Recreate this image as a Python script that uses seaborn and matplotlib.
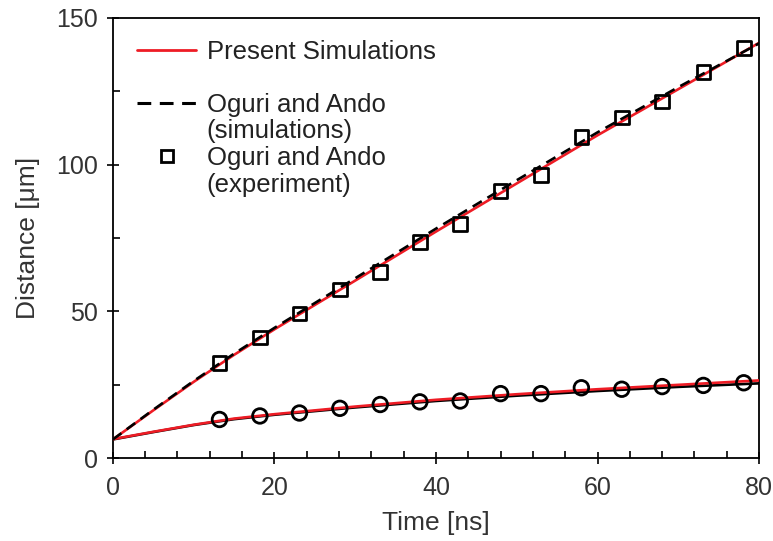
import matplotlib
matplotlib.use("Agg")
import matplotlib.pyplot as plt
import seaborn as sns
import pandas as pd
from matplotlib.ticker import MultipleLocator
from matplotlib.lines import Line2D

# --- data ---
t_exp = [13.2, 18.2, 23.1, 28.1, 33.1, 38.0, 43.0, 48.0, 53.0, 58.0, 63.0, 68.0, 73.1, 78.1]
upper_exp = [32.5, 41.1, 49.3, 57.5, 63.4, 73.7, 79.7, 91.1, 96.5, 109.5, 116.0, 121.5, 131.5, 139.7]
lower_exp = [13.2, 14.4, 15.4, 17.0, 18.3, 19.2, 19.5, 22.0, 22.0, 24.0, 23.5, 24.4, 24.8, 25.7]

t_sim = [0, 5, 10, 15, 20, 30, 40, 50, 60, 70, 80]
upper_present = [6.4, 16.3, 26.0, 35.2, 43.9, 60.5, 77.2, 93.6, 110.0, 125.7, 141.5]
upper_oguri = [6.4, 16.5, 26.3, 35.6, 44.4, 61.3, 78.2, 94.7, 111.0, 126.4, 141.3]
lower_present = [6.5, 9.0, 11.4, 13.5, 15.0, 17.6, 19.9, 21.8, 23.5, 25.0, 26.5]
lower_oguri = [6.4, 8.9, 11.3, 13.3, 14.8, 17.3, 19.5, 21.3, 22.9, 24.3, 25.5]

RED = "#ee1c25"

sns.set_theme(style="ticks")
plt.rcParams["font.family"] = ["Liberation Sans", "DejaVu Sans"]

fig = plt.figure(figsize=(7.73, 5.41), dpi=100)
ax = fig.add_axes([0.146, 0.153, 0.836, 0.814])

sim = pd.DataFrame({"t": t_sim, "up_p": upper_present, "up_o": upper_oguri,
                    "lo_p": lower_present, "lo_o": lower_oguri})
exp = pd.DataFrame({"t": t_exp, "up": upper_exp, "lo": lower_exp})

lw = 1.9
sns.lineplot(data=sim, x="t", y="lo_o", ax=ax, color="black", lw=lw, zorder=2)
sns.lineplot(data=sim, x="t", y="lo_p", ax=ax, color=RED, lw=lw, zorder=3)
sns.lineplot(data=sim, x="t", y="up_p", ax=ax, color=RED, lw=lw, zorder=2)
sns.lineplot(data=sim, x="t", y="up_o", ax=ax, color="black", lw=lw, zorder=3,
             dashes=False, linestyle=(0, (4, 2.5)))
sns.scatterplot(data=exp, x="t", y="up", ax=ax, marker="s", s=95,
                facecolor="none", edgecolor="black", linewidth=2.0, zorder=4)
sns.scatterplot(data=exp, x="t", y="lo", ax=ax, marker="o", s=110,
                facecolor="none", edgecolor="black", linewidth=2.0, zorder=4)

ax.set_xlim(0, 80)
ax.set_ylim(0, 150)
ax.xaxis.set_major_locator(MultipleLocator(20))
ax.xaxis.set_minor_locator(MultipleLocator(4))
ax.yaxis.set_major_locator(MultipleLocator(50))
ax.yaxis.set_minor_locator(MultipleLocator(25))
ax.tick_params(which="major", direction="inout", length=9, width=1.2,
               labelsize=18, colors="black", labelcolor="#333333")
ax.tick_params(which="minor", direction="in", length=5, width=1.2, colors="black")
ax.tick_params(axis="x", pad=8)
ax.tick_params(axis="y", pad=6)
for sp in ax.spines.values():
    sp.set_visible(True)
    sp.set_linewidth(1.3)
    sp.set_color("black")

ax.set_xlabel("Time [ns]", fontsize=19, color="#333333", labelpad=8)
ax.set_ylabel("Distance [μm]", fontsize=19, color="#333333", labelpad=12)

blank = Line2D([], [], linestyle="none")
handles = [
    Line2D([], [], color=RED, lw=2),
    blank,
    Line2D([], [], color="black", lw=2.2, linestyle=(0, (4.5, 2.8))),
    blank,
    Line2D([], [], color="black", marker="s", linestyle="none", markersize=8,
           markerfacecolor="none", markeredgewidth=2),
    blank,
]
labels = ["Present Simulations", " ", "Oguri and Ando", "(simulations)",
          "Oguri and Ando", "(experiment)"]
leg = ax.legend(handles, labels, loc="upper left", frameon=False, fontsize=18.5,
                handlelength=2.3, handletextpad=0.4, labelspacing=0.1,
                bbox_to_anchor=(0.006, 0.997), borderaxespad=0.4)
for txt in leg.get_texts():
    txt.set_color("#222222")

fig.savefig("out.png", dpi=100)
